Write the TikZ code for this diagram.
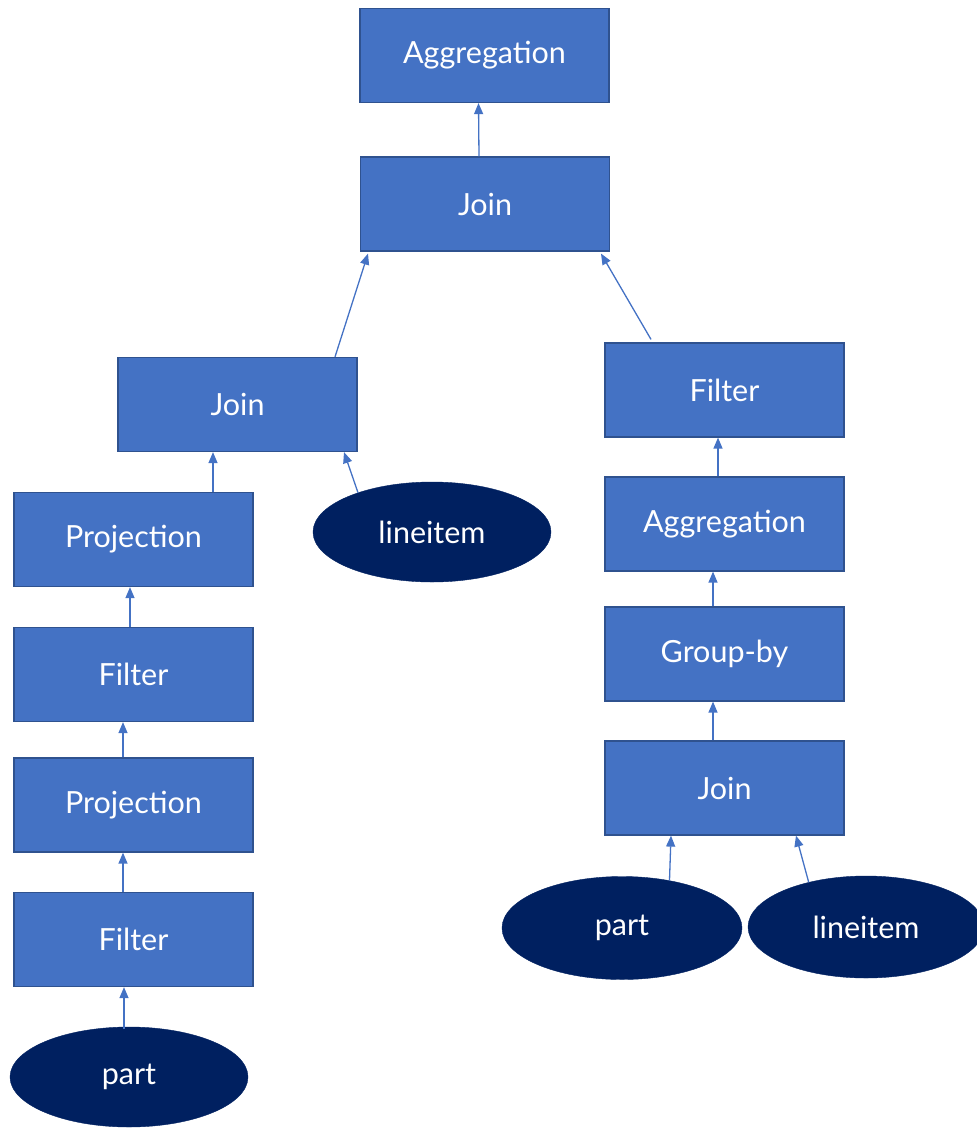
\documentclass[tikz,border=0pt]{standalone}
\usepackage{fontspec}
\setmainfont{Lato}
\usepackage{tikz}
\usetikzlibrary{arrows.meta,positioning,calc,shapes.geometric}
\usepackage{xcolor}
\definecolor{opblue}{HTML}{4472C4}
\definecolor{opedge}{HTML}{2F528F}
\definecolor{tblnavy}{HTML}{002060}
\tikzset{
  opbox/.style  = {draw=opedge, line width=1.2pt, fill=opblue, rectangle,
                   minimum width=239pt, minimum height=94pt, inner sep=0pt,
                   text=white, align=center},
  tblnode/.style = {draw=tblnavy, fill=tblnavy, ellipse, minimum width=238pt,
                   minimum height=100pt, inner sep=0pt, text=white},
  sig/.style    = {-{Triangle[length=11pt,width=9pt]}, line width=1.3pt, draw=opblue},
}

\begin{document}
\begin{tikzpicture}[x=1pt,y=-1pt,font=\fontsize{30.5}{34}\selectfont]
\useasboundingbox (0,0) rectangle (977,1128);
\node[opbox, minimum width=249pt] (aggtop) at (484.5,55.5) {Aggregation};
\node[opbox, minimum width=249pt] (jointop) at (485,204) {Join};
\node[opbox] (joinl) at (237.5,404.5) {Join};
\node[opbox] (filtr) at (724.5,390) {Filter};
\node[opbox] (aggr) at (724.5,524) {Aggregation};
\node[opbox] (grpby) at (724.5,654) {Group-by};
\node[opbox] (joinr) at (724.5,788) {Join};
\node[opbox] (projla) at (133.5,539.5) {Projection};
\node[opbox] (filtla) at (133.5,674.5) {Filter};
\node[opbox] (projlb) at (133.5,805) {Projection};
\node[opbox] (filtlb) at (133.5,939.5) {Filter};
\node[tblnode] (partl) at (129,1077) {part};
\node[tblnode] (lineiteml) at (432,532) {lineitem};
\node[tblnode, minimum width=240pt, minimum height=103pt] (partr) at (622,928) {part};
\node[tblnode, minimum width=236pt, minimum height=102pt] (lineitemr) at (866,927) {lineitem};
\draw[sig] ([xshift=-6]jointop.north) -- ([xshift=-6]aggtop.south);
\draw[sig] ([xshift=97.5]joinl.north) -- ([xshift=-117,yshift=-2]jointop.south);
\draw[sig] ([xshift=-73.5,yshift=3]filtr.north) -- ([xshift=116,yshift=-2]jointop.south);
\draw[sig] (lineiteml.152) -- ([xshift=106.5]joinl.south);
\draw[sig] ([xshift=79.5]projla.north) -- ([xshift=-24.5]joinl.south);
\draw[sig] ([xshift=-3.5]filtla.north) -- ([xshift=-3.5]projla.south);
\draw[sig] ([xshift=-10.5]projlb.north) -- ([xshift=-10.5]filtla.south);
\draw[sig] ([xshift=-10.5]filtlb.north) -- ([xshift=-10.5]projlb.south);
\draw[sig] ([xshift=-5,yshift=-2]partl.north) -- ([xshift=-9.5]filtlb.south);
\draw[sig] ([xshift=-6.5]aggr.north) -- ([xshift=-6.5]filtr.south);
\draw[sig] ([xshift=-11.5]grpby.north) -- ([xshift=-11.5]aggr.south);
\draw[sig] ([xshift=-11.5]joinr.north) -- ([xshift=-11.5]grpby.south);
\draw[sig] (partr.45) -- ([xshift=-53.5]joinr.south);
\draw[sig] (lineitemr.142) -- ([xshift=71.5]joinr.south);
\end{tikzpicture}
\end{document}
